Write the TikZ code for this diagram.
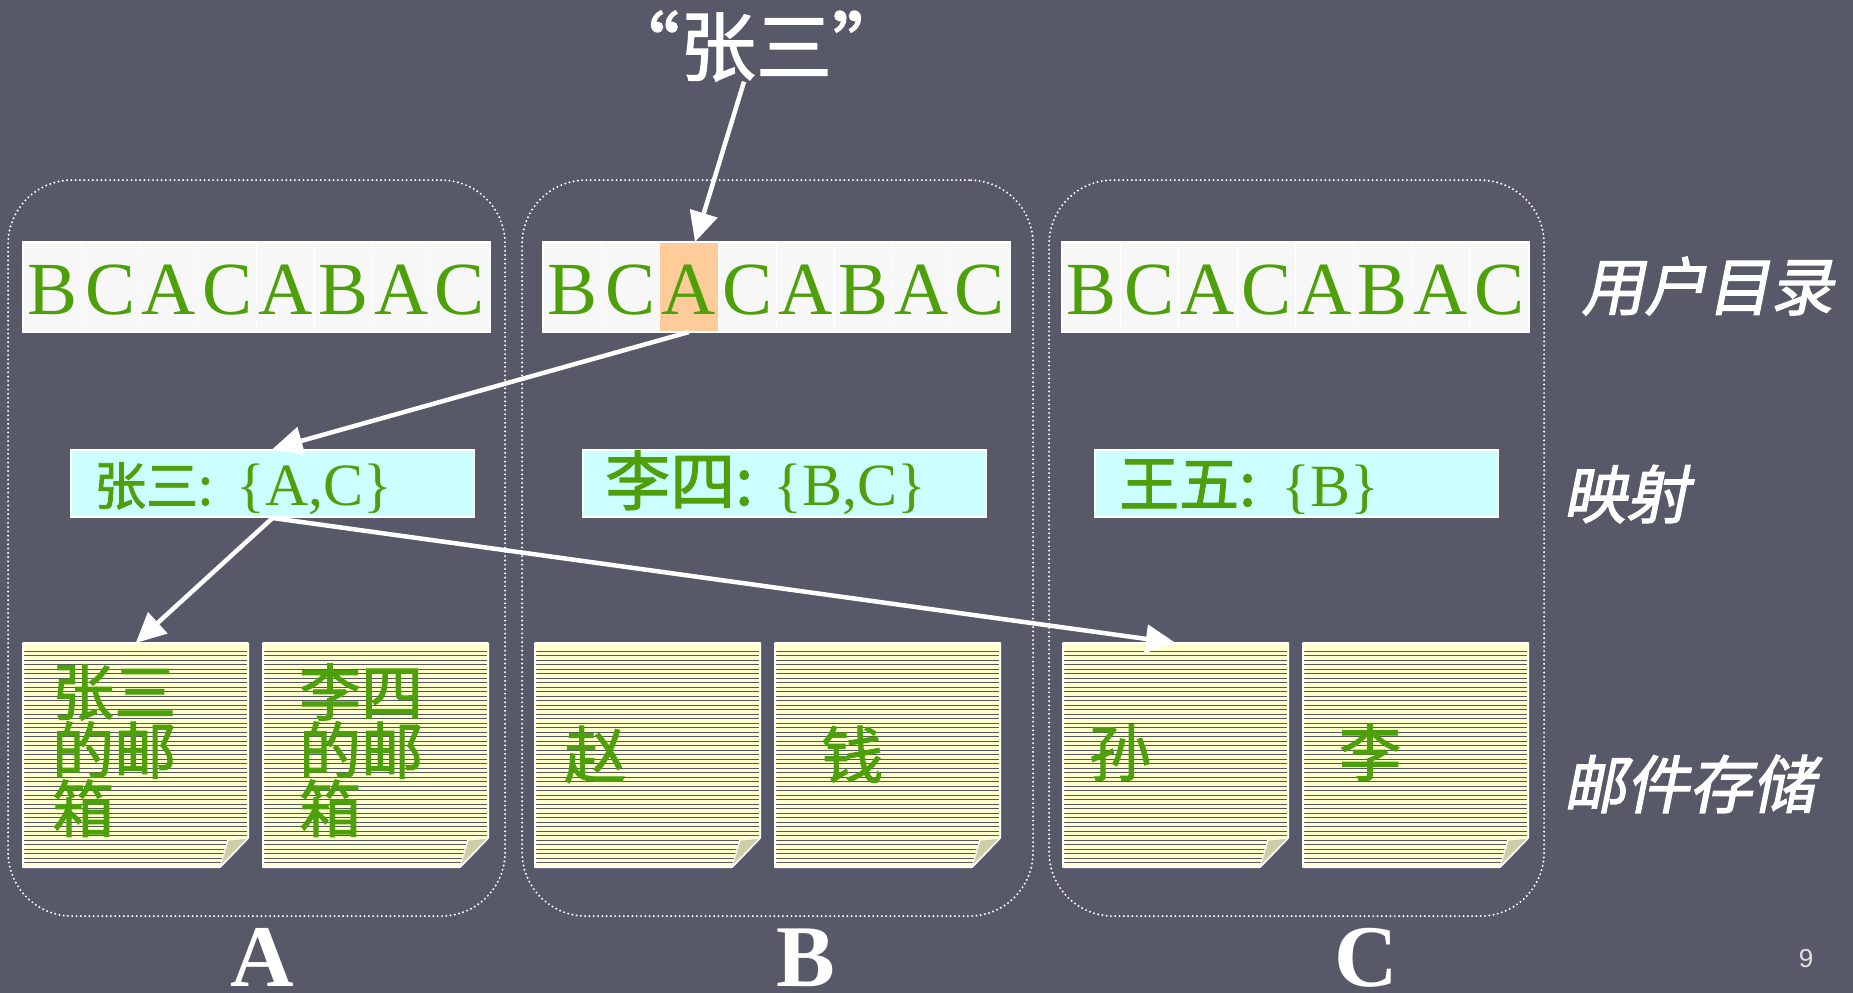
\documentclass[tikz,border=0pt]{standalone}
\usepackage{fontspec}
\setmainfont{Liberation Serif}
\newfontfamily\cjk{Noto Sans CJK SC}
\newfontfamily\cjkm{Noto Sans CJK SC}[FakeBold=1.6]
\newfontfamily\cjkit{Noto Sans CJK SC}[FakeSlant=0.2,FakeBold=2]
\newfontfamily\arialf{Liberation Sans}
\usetikzlibrary{arrows.meta,calc}
\definecolor{bg}{RGB}{87,89,104}
\definecolor{grn}{RGB}{78,160,10}
\definecolor{cellbg}{RGB}{247,247,247}
\definecolor{hl}{RGB}{255,204,153}
\definecolor{cyanbg}{RGB}{204,255,255}
\definecolor{paperbg}{RGB}{255,255,204}
\definecolor{paperln}{RGB}{84,86,102}
\definecolor{foldc}{RGB}{205,205,170}
\definecolor{pgnum}{RGB}{225,225,225}
\newcommand\mailpaper[3]{%
  \begin{scope}
    \fill[paperbg] (#1,#2) -- ++(225,0) -- ++(0,195) -- ++(-28,29) -- ++(-197,0) -- cycle;
    \clip (#1,#2) -- ++(225,0) -- ++(0,195) -- ++(-28,29) -- ++(-197,0) -- cycle;
    \foreach \k in {0,...,47} \draw[paperln, line width=0.9pt] (#1,#2+8+\k*4.5) -- ++(225,0);
  \end{scope}
  \draw[white, line width=2pt, line join=round] (#1,#2) -- ++(225,0) -- ++(0,195) -- ++(-28,29) -- ++(-197,0) -- cycle;
  \filldraw[fill=foldc, draw=white, line width=1.2pt, line join=round] (#1+197,#2+224) -- (#1+205,#2+197) -- (#1+225,#2+195) -- cycle;
  \node[inner sep=0, minimum width=225pt, minimum height=224pt, anchor=north west] (#3) at (#1,#2) {};
}
\begin{document}
\begin{tikzpicture}[x=1pt,y=-1pt,
  dotbox/.style={rectangle, rounded corners=64pt, draw=white, line width=2.2pt, dash pattern=on 0pt off 4.3pt, line cap=round, inner sep=0, anchor=north west},
  cell/.style={rectangle, fill=cellbg, draw=white, line width=1pt, minimum width=58.2pt, minimum height=89pt, inner sep=0, text height=72pt, text depth=17pt, anchor=north west, text=grn, font=\fontsize{75}{75}\selectfont},
  mapbox/.style={rectangle, fill=cyanbg, draw=white, line width=2pt, inner sep=0, minimum height=67pt, minimum width=403pt, anchor=north west},
  maptext/.style={inner sep=0, anchor=base west, text=grn, font=\fontsize{60}{60}\selectfont},
  ptext/.style={inner sep=0, anchor=base west, align=left, text=grn, font=\cjkm\fontsize{62}{55}\selectfont},
  side/.style={inner sep=0, anchor=base west, text=white, font=\cjkit\fontsize{63}{63}\selectfont},
  bottom/.style={inner sep=0, anchor=base, text=white, font=\bfseries\fontsize{88}{88}\selectfont},
  arr/.style={draw=white, line width=4.5pt, -{Triangle[length=30pt,width=28pt]}}
]
\fill[bg] (0,0) rectangle (1853,993);
\useasboundingbox (0,0) rectangle (1853,993);

% dotted server boxes
\node[dotbox, minimum width=497pt, minimum height=736pt] (boxA) at (7,179) {};
\node[dotbox, minimum width=511pt, minimum height=736pt] (boxB) at (521,179) {};
\node[dotbox, minimum width=495pt, minimum height=736pt] (boxC) at (1048,179) {};

% user directory strips
\foreach \ch [count=\i] in {B,C,A,C,A,B,A,C}
  \node[cell] (a\i) at ({23+(\i-1)*58.2},242) {\ch};
\foreach \ch/\f [count=\i] in {B/cellbg,C/cellbg,A/hl,C/cellbg,A/cellbg,B/cellbg,A/cellbg,C/cellbg}
  \node[cell, fill=\f] (b\i) at ({543+(\i-1)*58.2},242) {\ch};
\foreach \ch [count=\i] in {B,C,A,C,A,B,A,C}
  \node[cell] (c\i) at ({1062+(\i-1)*58.2},242) {\ch};
\draw[white, line width=2pt] (a1.north west) rectangle (a8.south east);
\draw[white, line width=2pt] (b1.north west) rectangle (b8.south east);
\draw[white, line width=2pt] (c1.north west) rectangle (c8.south east);

% mapping boxes
\node[mapbox] (mapA) at (70,449) {};
\node[mapbox] (mapB) at (582,449) {};
\node[mapbox] (mapC) at (1094,449) {};
\node[maptext] (tA) at (94,505) {{\cjkm\fontsize{52}{52}\selectfont 张三:}\hspace{24pt}\{A,C\}};
\node[maptext] (tB) at (605,505) {{\cjkm\fontsize{65}{65}\selectfont 李四:}\hspace{20pt}\{B,C\}};
\node[maptext] (tC) at (1119,506) {{\cjkm\fontsize{60}{60}\selectfont 王五:}\hspace{26pt}\{B\}};

% mail storage
\mailpaper{23}{643}{pa1}
\mailpaper{263}{643}{pa2}
\mailpaper{535}{643}{pb1}
\mailpaper{775}{643}{pb2}
\mailpaper{1063}{643}{pc1}
\mailpaper{1303}{643}{pc2}
\node[ptext] (qa1) at (52,832) {张三\\的邮\\箱};
\node[ptext] (qa2) at (299,832) {李四\\的邮\\箱};
\node[ptext] (qb1) at (564,778) {赵};
\node[ptext] (qb2) at (821,778) {钱};
\node[ptext] (qc1) at (1089,776) {孙};
\node[ptext] (qc2) at (1339,776) {李};

% side labels
\node[side] (l1) at (1581,310) {用户目录};
\node[side] (l2) at (1563,518) {映射};
\node[side] (l3) at (1563,808) {邮件存储};

% top label
\node[inner sep=0, anchor=base, text=white, font=\cjkm\fontsize{76}{76}\selectfont] (zs) at (756,75) {“张三”};

% bottom labels
\node[bottom] (LA) at (262,986) {A};
\node[bottom] (LB) at (806,986) {B};
\node[bottom] (LC) at (1366,986) {C};
\node[inner sep=0, anchor=base, text=pgnum, font=\arialf\fontsize{26}{26}\selectfont] (pg) at (1806,967) {9};

% arrows
\draw[arr] ([xshift=-12pt]zs.south) -- ([xshift=6pt]b3.north);
\draw[arr] (b3.south) -- (mapA.north);
\draw[arr] (mapA.south) -- (pa1.north);
\draw[arr] (mapA.south) -- (pc1.north);
\end{tikzpicture}
\end{document}
